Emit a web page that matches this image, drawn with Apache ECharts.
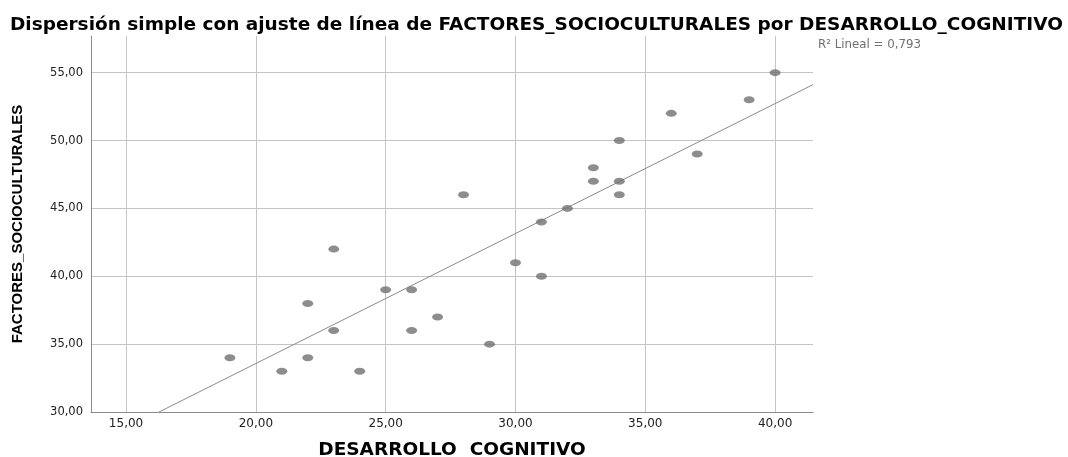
<!DOCTYPE html>
<html>
<head>
<meta charset="utf-8">
<script src="https://cdn.jsdelivr.net/npm/echarts@6/dist/echarts.min.js"></script>
<style>html,body{margin:0;padding:0;background:#fff}#c{width:1068px;height:457px}</style>
</head>
<body>
<div id="c"></div>
<script>
var desarrolloCognitivo = [19,21,22,22,23,23,24,25,26,26,27,28,29,30,31,31,32,33,33,34,34,34,36,37,39,40];
var factoresSocioculturales = [34,33,38,34,42,36,33,39,39,36,37,46,35,41,44,40,45,48,47,50,47,46,52,49,53,55];
var xTicks = [15,20,25,30,35,40];
var yTicks = [30,35,40,45,50,55];
var xRange = [13.65, 41.46];
var yRange = [30, 57.7];
// fit line end points
var fitX = [16.27, 41.46];
var fitY = [30, 54.12];
var r2Label = 'R\u00B2 Lineal = 0,793';

var pts = desarrolloCognitivo.map(function(x,i){return [x, factoresSocioculturales[i]];});
var fit = fitX.map(function(x,i){return [x, fitY[i]];});

function fmt(v){return v.toFixed(2).replace('.', ',');}
var wide = 'DejaVu Sans, Verdana, sans-serif';
var font = 'Liberation Sans, Arial, sans-serif';
var chart = echarts.init(document.getElementById('c'));
chart.setOption({
  animation:false,
  title:{text:'Dispersión simple con ajuste de línea de FACTORES_SOCIOCULTURALES por DESARROLLO_COGNITIVO',
    left:5, top:11, textStyle:{fontFamily:wide, fontWeight:'bold', fontSize:18.5, color:'#000'}},
  grid:{left:91, right:255, top:36, bottom:45, outerBoundsMode:'none', containLabel:false},
  xAxis:{type:'value', min:xRange[0], max:xRange[1],
    name:'DESARROLLO  COGNITIVO', nameLocation:'middle', nameGap:29,
    nameTextStyle:{fontFamily:wide, fontWeight:'bold', fontSize:18.5, color:'#000'},
    axisLine:{lineStyle:{color:'#8c8c8c', width:1}},
    axisTick:{show:false, customValues:xTicks},
    axisLabel:{customValues:xTicks, formatter:fmt, fontFamily:wide, fontSize:12, color:'#222', margin:6},
    splitLine:{show:true, lineStyle:{color:'#c4c4c4', width:1}}},
  yAxis:{type:'value', min:yRange[0], max:yRange[1],
    name:'FACTORES_SOCIOCULTURALES', nameLocation:'middle', nameGap:66, nameRotate:90,
    nameTextStyle:{fontFamily:font, fontWeight:'bold', fontSize:15, color:'#000'},
    axisLine:{show:true, lineStyle:{color:'#8c8c8c', width:1}},
    axisTick:{show:false, customValues:yTicks},
    axisLabel:{customValues:yTicks, formatter:fmt, fontFamily:wide, fontSize:11.5, color:'#222', margin:8},
    splitLine:{show:true, lineStyle:{color:'#c4c4c4', width:1}}},
  graphic:[{type:'text', left:818, top:39, style:{text:r2Label, fontFamily:wide, fontSize:11.8, fill:'#707070'}}],
  series:[
    {type:'line', data:fit, symbol:'none', clip:true, lineStyle:{color:'#8a8a8a', width:1}, z:2},
    {type:'scatter', data:pts, symbol:'circle', symbolSize:[11,7], itemStyle:{color:'#707070'}, z:3}
  ]
});
</script>
</body>
</html>
